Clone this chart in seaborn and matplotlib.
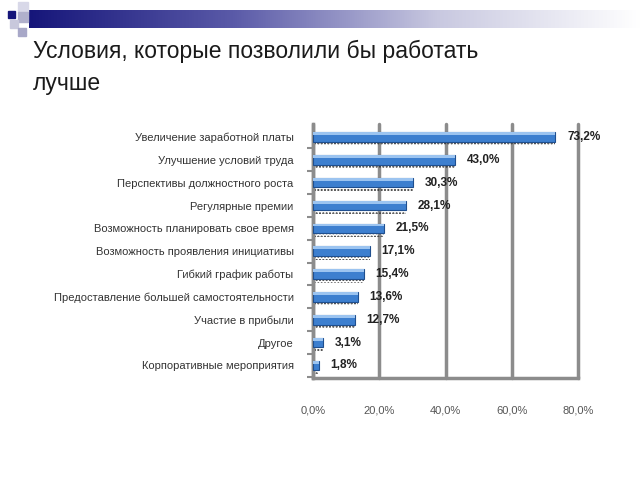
import numpy as np
import pandas as pd
import matplotlib
matplotlib.use('Agg')
import matplotlib.pyplot as plt
import seaborn as sns
from matplotlib.patches import Rectangle

categories = ['Увеличение заработной платы', 'Улучшение условий труда',
              'Перспективы должностного роста', 'Регулярные премии',
              'Возможность планировать свое время', 'Возможность проявления инициативы',
              'Гибкий график работы', 'Предоставление большей самостоятельности',
              'Участие в прибыли', 'Другое', 'Корпоративные мероприятия']
values = [73.2, 43.0, 30.3, 28.1, 21.5, 17.1, 15.4, 13.6, 12.7, 3.1, 1.8]
xticks = [0, 20, 40, 60, 80]

df = pd.DataFrame({'cat': categories, 'val': values})

sns.set_style('white')
plt.rcParams['font.family'] = ['Liberation Sans', 'DejaVu Sans']

fig = plt.figure(figsize=(6.4, 4.8), dpi=100)

# header decoration: gradient band + small squares
hdr = fig.add_axes([0.045, 1 - 28 / 480, 0.955, 18 / 480])
grad = np.linspace(0, 1, 256).reshape(1, -1)
cmap = matplotlib.colors.LinearSegmentedColormap.from_list('hdr', ['#16167a', '#5a5aa8', '#c8c8e0', '#ffffff'])
hdr.imshow(grad, aspect='auto', cmap=cmap, extent=[0, 1, 0, 1])
hdr.axis('off')
for (x, y, w, h, c) in [(8, 11, 7, 7, '#16167a'), (18, 2, 10, 10, '#d8d8e8'),
                        (18, 12, 10, 10, '#b0b0cc'), (10, 20, 8, 8, '#c8c8dc'),
                        (18, 28, 8, 8, '#a8a8c8')]:
    fig.patches.append(Rectangle((x / 640, 1 - (y + h) / 480), w / 640, h / 480,
                                 transform=fig.transFigure, color=c, zorder=5))

fig.text(33 / 640, 1 - 58 / 480, 'Условия, которые позволили бы работать', fontsize=16.5, color='#1a1a1a')
fig.text(33 / 640, 1 - 90 / 480, 'лучше', fontsize=16.5, color='#1a1a1a')

ax = fig.add_axes([313 / 640, 1 - 378 / 480, 265 / 640, 254 / 480])

# dotted shadow beneath bars
pos = np.arange(len(values))
ax.barh(pos + 0.24, values, height=0.26, color='none', edgecolor='#333333',
        hatch='.....', linewidth=0, zorder=2)
sns.barplot(data=df, x='val', y='cat', orient='h', color='#3d7fcf', saturation=1,
            width=0.42, edgecolor='#1f4f8f', linewidth=0.8, ax=ax, zorder=3)
for p in ax.patches[len(values):]:
    x0, y0 = p.get_x(), p.get_y()
    w, h = p.get_width(), p.get_height()
    ax.add_patch(Rectangle((x0, y0), w, h * 0.3, color='#9cc4f0', lw=0, zorder=4))

for i, v in enumerate(values):
    ax.text(v + 3.5, i, f'{v:.1f}%'.replace('.', ','), va='center', ha='left',
            fontsize=8.5, fontweight='bold', color='#222222')

ax.set_xlim(0, 80)
ax.set_ylim(len(values) - 0.45, -0.57)
ax.set_xticks(xticks)
ax.set_xticklabels([f'{t:.1f}%'.replace('.', ',') for t in xticks], fontsize=8, color='#555555')
ax.set_yticks(pos + 0.5, minor=True)
ax.tick_params(axis='x', length=0, pad=20)
ax.tick_params(axis='y', which='major', length=0, pad=14, labelsize=8, labelcolor='#333333')
ax.tick_params(axis='y', which='minor', length=4, width=1.5, color='#8c8c8c', direction='out', left=True)
ax.set_xlabel('')
ax.set_ylabel('')
ax.xaxis.grid(True, color='#8c8c8c', linewidth=2.5, zorder=0)
for gl in ax.get_xgridlines():
    gl.set_clip_on(False)
ax.set_axisbelow(True)
for s in ['top', 'right']:
    ax.spines[s].set_visible(False)
ax.spines['left'].set_color('#8c8c8c')
ax.spines['left'].set_linewidth(2.5)
ax.spines['bottom'].set_color('#8c8c8c')
ax.spines['bottom'].set_linewidth(2.5)

fig.savefig('out.png', dpi=100)
